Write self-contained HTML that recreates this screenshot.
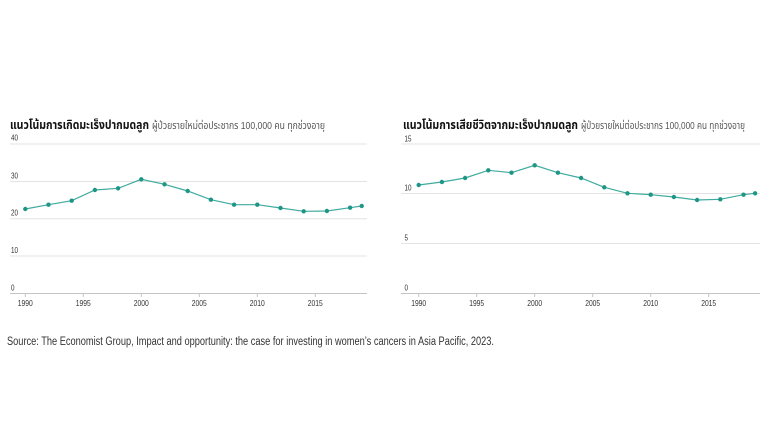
<!DOCTYPE html>
<html>
<head>
<meta charset="utf-8">
<style>
  html,body{margin:0;padding:0;background:#fff;}
  svg{display:block;}
  text{font-family:"Liberation Sans Narrow","Liberation Sans","Noto Sans Thai","Tlwg Typo","Garuda","Loma","DejaVu Sans",sans-serif;}
</style>
</head>
<body>
<svg width="780" height="438" viewBox="0 0 780 438" xmlns="http://www.w3.org/2000/svg">
  <rect width="780" height="438" fill="#fff"/>

  <!-- LEFT CHART -->
  <text x="10" y="129" font-size="12" font-weight="bold" fill="#111" textLength="139" lengthAdjust="spacingAndGlyphs">แนวโน้มการเกิดมะเร็งปากมดลูก</text>
  <text x="152" y="129" font-size="10.5" fill="#555" textLength="173" lengthAdjust="spacingAndGlyphs">ผู้ป่วยรายใหม่ต่อประชากร 100,000 คน ทุกช่วงอายุ</text>

  <g stroke="#e3e3e3" stroke-width="1">
    <line x1="10" y1="144" x2="367" y2="144"/>
    <line x1="10" y1="181.5" x2="367" y2="181.5"/>
    <line x1="10" y1="218.8" x2="367" y2="218.8"/>
    <line x1="10" y1="256" x2="367" y2="256"/>
  </g>
  <line x1="10" y1="293.5" x2="367" y2="293.5" stroke="#c4c4c4" stroke-width="1"/>
  <g stroke="#c4c4c4" stroke-width="1">
    <line x1="25.3" y1="293.5" x2="25.3" y2="297"/>
    <line x1="83.3" y1="293.5" x2="83.3" y2="297"/>
    <line x1="141.3" y1="293.5" x2="141.3" y2="297"/>
    <line x1="199.3" y1="293.5" x2="199.3" y2="297"/>
    <line x1="257.3" y1="293.5" x2="257.3" y2="297"/>
    <line x1="315.3" y1="293.5" x2="315.3" y2="297"/>
  </g>
  <g font-size="8.5" fill="#333">
    <text x="11" y="140.5" textLength="7" lengthAdjust="spacingAndGlyphs">40</text>
    <text x="11" y="178.5" textLength="7" lengthAdjust="spacingAndGlyphs">30</text>
    <text x="11" y="215.5" textLength="7" lengthAdjust="spacingAndGlyphs">20</text>
    <text x="11" y="253" textLength="7" lengthAdjust="spacingAndGlyphs">10</text>
    <text x="11" y="290.5" textLength="3.5" lengthAdjust="spacingAndGlyphs">0</text>
  </g>
  <g font-size="8.5" fill="#333">
    <text x="17.8" y="306" textLength="15" lengthAdjust="spacingAndGlyphs">1990</text>
    <text x="75.8" y="306" textLength="15" lengthAdjust="spacingAndGlyphs">1995</text>
    <text x="133.8" y="306" textLength="15" lengthAdjust="spacingAndGlyphs">2000</text>
    <text x="191.8" y="306" textLength="15" lengthAdjust="spacingAndGlyphs">2005</text>
    <text x="249.8" y="306" textLength="15" lengthAdjust="spacingAndGlyphs">2010</text>
    <text x="307.8" y="306" textLength="15" lengthAdjust="spacingAndGlyphs">2015</text>
  </g>
  <polyline fill="none" stroke="#3fab9e" stroke-width="1.2" points="25.3,209 48.5,204.7 71.7,200.7 94.9,190 118.1,188.3 141.3,179.3 164.5,184.3 187.7,191 210.9,199.7 234.1,204.7 257.3,204.7 280.5,208 303.7,211.3 326.9,211 350.1,207.7 361.7,206"/>
  <g fill="#1e9686">
    <circle cx="25.3" cy="209" r="2.2"/>
    <circle cx="48.5" cy="204.7" r="2.2"/>
    <circle cx="71.7" cy="200.7" r="2.2"/>
    <circle cx="94.9" cy="190" r="2.2"/>
    <circle cx="118.1" cy="188.3" r="2.2"/>
    <circle cx="141.3" cy="179.3" r="2.2"/>
    <circle cx="164.5" cy="184.3" r="2.2"/>
    <circle cx="187.7" cy="191" r="2.2"/>
    <circle cx="210.9" cy="199.7" r="2.2"/>
    <circle cx="234.1" cy="204.7" r="2.2"/>
    <circle cx="257.3" cy="204.7" r="2.2"/>
    <circle cx="280.5" cy="208" r="2.2"/>
    <circle cx="303.7" cy="211.3" r="2.2"/>
    <circle cx="326.9" cy="211" r="2.2"/>
    <circle cx="350.1" cy="207.7" r="2.2"/>
    <circle cx="361.7" cy="206" r="2.2"/>
  </g>

  <!-- RIGHT CHART -->
  <text x="403" y="129" font-size="12" font-weight="bold" fill="#111" textLength="175" lengthAdjust="spacingAndGlyphs">แนวโน้มการเสียชีวิตจากมะเร็งปากมดลูก</text>
  <text x="581" y="129" font-size="10.5" fill="#555" textLength="164" lengthAdjust="spacingAndGlyphs">ผู้ป่วยรายใหม่ต่อประชากร 100,000 คน ทุกช่วงอายุ</text>

  <g stroke="#e3e3e3" stroke-width="1">
    <line x1="401" y1="144" x2="760" y2="144"/>
    <line x1="401" y1="193.5" x2="760" y2="193.5"/>
    <line x1="401" y1="243.5" x2="760" y2="243.5"/>
  </g>
  <line x1="401" y1="293.5" x2="760" y2="293.5" stroke="#c4c4c4" stroke-width="1"/>
  <g stroke="#c4c4c4" stroke-width="1">
    <line x1="418.7" y1="293.5" x2="418.7" y2="297"/>
    <line x1="476.7" y1="293.5" x2="476.7" y2="297"/>
    <line x1="534.7" y1="293.5" x2="534.7" y2="297"/>
    <line x1="592.7" y1="293.5" x2="592.7" y2="297"/>
    <line x1="650.7" y1="293.5" x2="650.7" y2="297"/>
    <line x1="708.7" y1="293.5" x2="708.7" y2="297"/>
  </g>
  <g font-size="8.5" fill="#333">
    <text x="404.5" y="141.5" textLength="7" lengthAdjust="spacingAndGlyphs">15</text>
    <text x="404.5" y="190.5" textLength="7" lengthAdjust="spacingAndGlyphs">10</text>
    <text x="404.5" y="240.5" textLength="3.5" lengthAdjust="spacingAndGlyphs">5</text>
    <text x="404.5" y="290.5" textLength="3.5" lengthAdjust="spacingAndGlyphs">0</text>
  </g>
  <g font-size="8.5" fill="#333">
    <text x="411.2" y="306" textLength="15" lengthAdjust="spacingAndGlyphs">1990</text>
    <text x="469.2" y="306" textLength="15" lengthAdjust="spacingAndGlyphs">1995</text>
    <text x="527.2" y="306" textLength="15" lengthAdjust="spacingAndGlyphs">2000</text>
    <text x="585.2" y="306" textLength="15" lengthAdjust="spacingAndGlyphs">2005</text>
    <text x="643.2" y="306" textLength="15" lengthAdjust="spacingAndGlyphs">2010</text>
    <text x="701.2" y="306" textLength="15" lengthAdjust="spacingAndGlyphs">2015</text>
  </g>
  <polyline fill="none" stroke="#3fab9e" stroke-width="1.2" points="418.7,185 441.9,182 465.1,178 488.3,170.3 511.5,172.7 534.7,165.3 557.9,172.7 581.1,178 604.3,187.3 627.5,193.3 650.7,194.7 673.9,197 697.1,200 720.3,199.3 743.5,194.7 755.1,193.3"/>
  <g fill="#1e9686">
    <circle cx="418.7" cy="185" r="2.2"/>
    <circle cx="441.9" cy="182" r="2.2"/>
    <circle cx="465.1" cy="178" r="2.2"/>
    <circle cx="488.3" cy="170.3" r="2.2"/>
    <circle cx="511.5" cy="172.7" r="2.2"/>
    <circle cx="534.7" cy="165.3" r="2.2"/>
    <circle cx="557.9" cy="172.7" r="2.2"/>
    <circle cx="581.1" cy="178" r="2.2"/>
    <circle cx="604.3" cy="187.3" r="2.2"/>
    <circle cx="627.5" cy="193.3" r="2.2"/>
    <circle cx="650.7" cy="194.7" r="2.2"/>
    <circle cx="673.9" cy="197" r="2.2"/>
    <circle cx="697.1" cy="200" r="2.2"/>
    <circle cx="720.3" cy="199.3" r="2.2"/>
    <circle cx="743.5" cy="194.7" r="2.2"/>
    <circle cx="755.1" cy="193.3" r="2.2"/>
  </g>

  <!-- SOURCE -->
  <text x="7" y="345" font-size="11.5" fill="#333" textLength="487" lengthAdjust="spacingAndGlyphs">Source: The Economist Group, Impact and opportunity: the case for investing in women’s cancers in Asia Pacific, 2023.</text>
</svg>
</body>
</html>
